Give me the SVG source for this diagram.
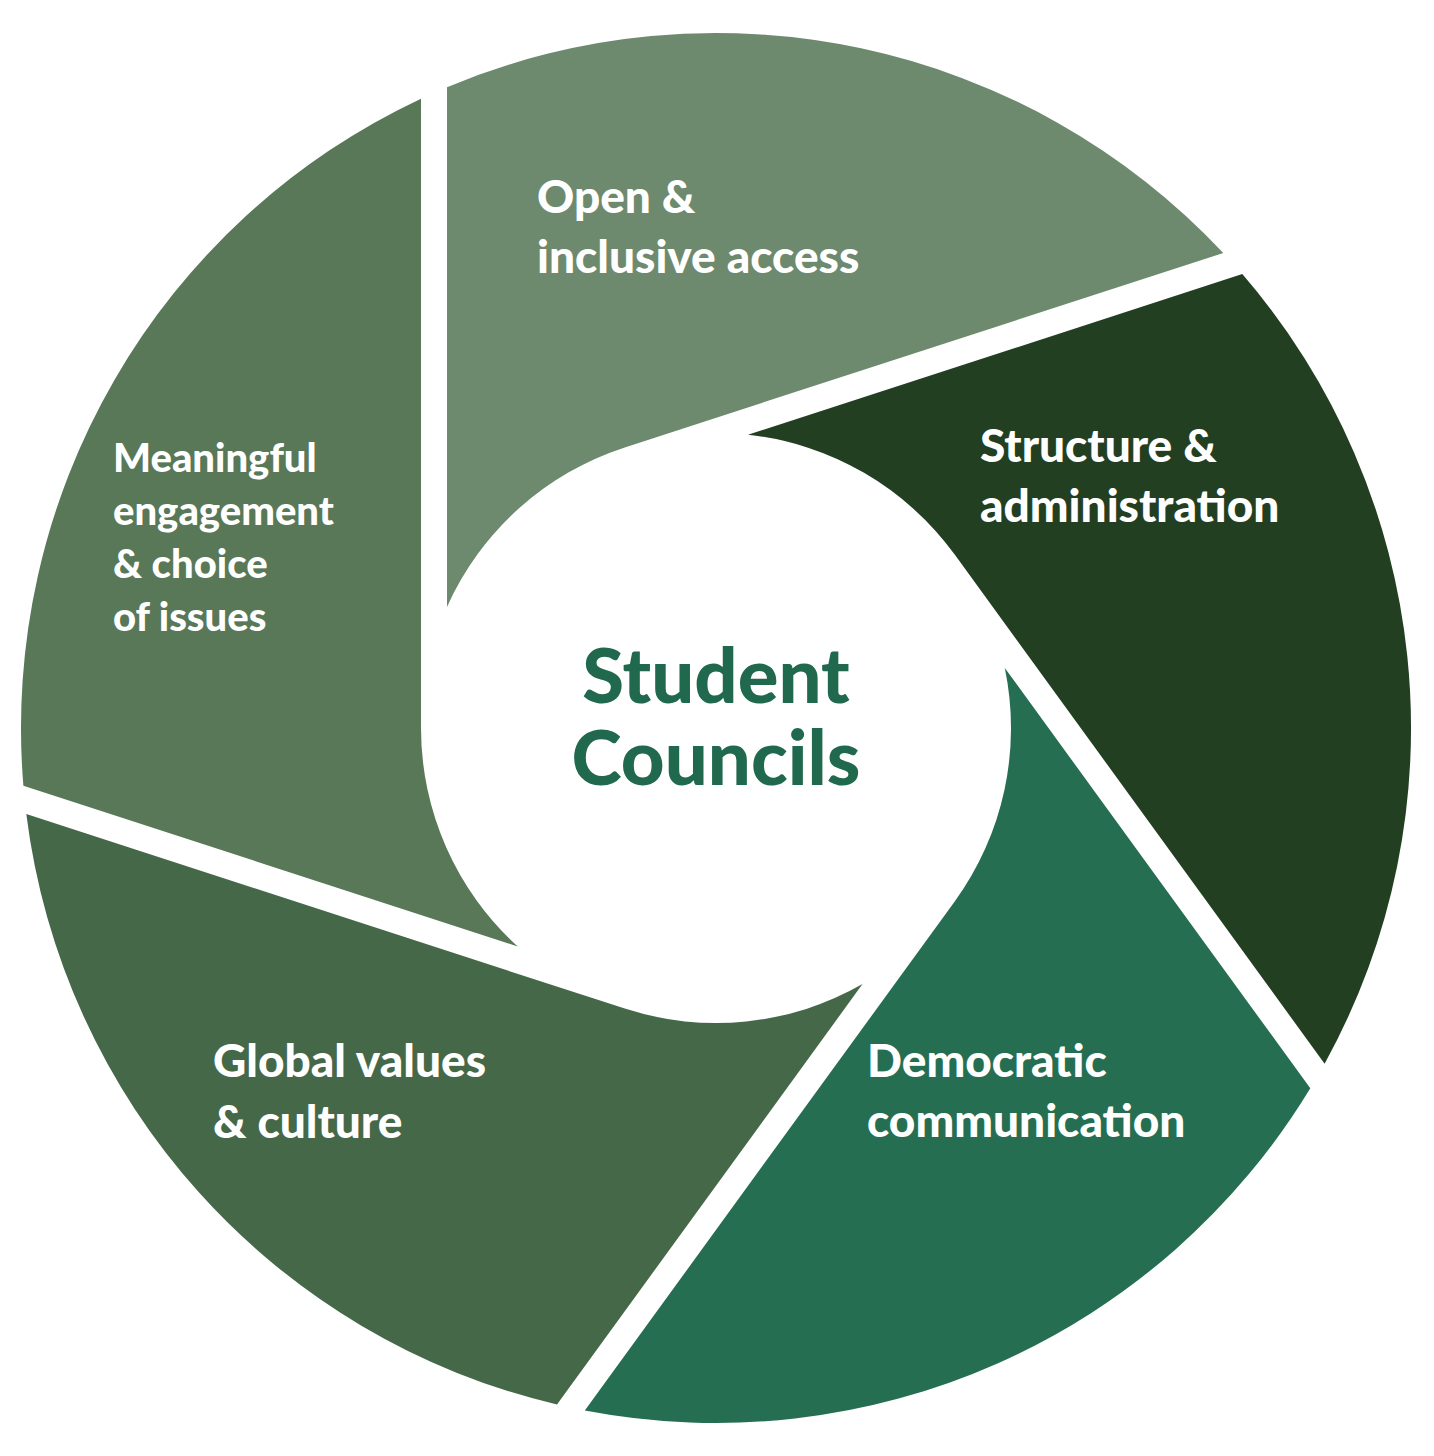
<svg xmlns="http://www.w3.org/2000/svg" width="1434" height="1456" viewBox="0 0 1434 1456">
<style>
.lbl{font-family:Lato,"Open Sans",sans-serif;font-weight:900;fill:#fff;font-size:46px}
.sm{font-size:40px}
.ctr{font-family:Lato,"Open Sans",sans-serif;font-weight:900;fill:#21694e;font-size:76px;text-anchor:middle}
</style>
<rect width="1434" height="1456" fill="#fff"/>
<g id="seg-meaningful">
<path d="M517.7,946.4 L23.4,785.8 A695,695 0 0 1 421,98.7 L421,728 A295,295 0 0 0 517.7,946.4 Z" fill="#587858"/>
<text class="lbl sm" x="113" y="472">Meaningful</text>
<text class="lbl sm" x="113" y="525">engagement</text>
<text class="lbl sm" x="113" y="578">&amp; choice</text>
<text class="lbl sm" x="113" y="631">of issues</text>
</g>
<g id="seg-open">
<path d="M447,606.9 L447,87.2 A695,695 0 0 1 1223.3,253 L624.8,447.4 A295,295 0 0 0 447,606.9 Z" fill="#6d8a6e"/>
<text class="lbl" x="537" y="213">Open &amp;</text>
<text class="lbl" x="537" y="273">inclusive access</text>
</g>
<g id="seg-structure">
<path d="M748,434.7 L1242.3,274.1 A695,695 0 0 1 1324.6,1063.7 L954.7,554.6 A295,295 0 0 0 748,434.7 Z" fill="#233f22"/>
<text class="lbl" x="980" y="462">Structure &amp;</text>
<text class="lbl" x="980" y="522">administration</text>
</g>
<g id="seg-democratic">
<path d="M1004.8,667.9 L1310.3,1088.3 A695,695 0 0 1 584.8,1410.5 L954.7,901.4 A295,295 0 0 0 1004.8,667.9 Z" fill="#256e52"/>
<text class="lbl" x="867" y="1077">Democratic</text>
<text class="lbl" x="867" y="1137">communication</text>
</g>
<g id="seg-global">
<path d="M862.5,984.1 L557,1404.5 A695,695 0 0 1 26.3,814.1 L624.8,1008.6 A295,295 0 0 0 862.5,984.1 Z" fill="#456848"/>
<text class="lbl" x="213" y="1077">Global values</text>
<text class="lbl" x="213" y="1138">&amp; culture</text>
</g>
<g id="center">
<text class="ctr" x="716" y="703">Student</text>
<text class="ctr" x="716" y="785">Councils</text>
</g>
<g id="connectors"></g>
</svg>
